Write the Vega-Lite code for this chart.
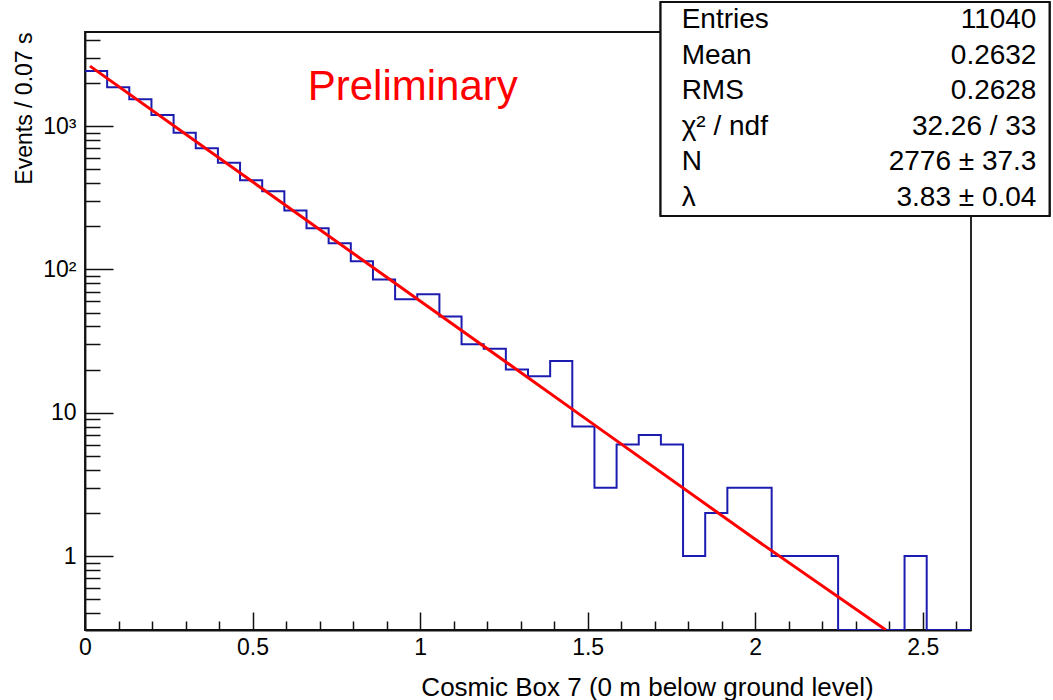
{
  "$schema": "https://vega.github.io/schema/vega-lite/v6.json",
  "autosize": {"type": "none"},
  "width": 886,
  "height": 598,
  "padding": {"left": 85, "top": 32, "right": 82, "bottom": 70},
  "background": "white",
  "config": {
    "font": "Liberation Sans",
    "view": {"stroke": "#111111", "strokeWidth": 1.8},
    "axis": {"grid": false, "domainColor": "#111111", "domainWidth": 1.8, "tickColor": "#111111", "tickWidth": 1.5, "labelColor": "#000000", "titleColor": "#000000", "labelFont": "Liberation Sans", "titleFont": "Liberation Sans", "titleFontWeight": "normal"}
  },
  "datasets": {
    "hist": [
      {"t": 0.0, "n": 2424}, {"t": 0.0661, "n": 1866}, {"t": 0.1322, "n": 1538}, {"t": 0.1983, "n": 1195},
      {"t": 0.2644, "n": 899}, {"t": 0.3305, "n": 700}, {"t": 0.3966, "n": 555}, {"t": 0.4627, "n": 419},
      {"t": 0.5288, "n": 351}, {"t": 0.5949, "n": 258}, {"t": 0.661, "n": 194}, {"t": 0.7271, "n": 152},
      {"t": 0.7932, "n": 114}, {"t": 0.8593, "n": 85}, {"t": 0.9254, "n": 62}, {"t": 0.9915, "n": 67},
      {"t": 1.0576, "n": 47}, {"t": 1.1237, "n": 30}, {"t": 1.1898, "n": 28}, {"t": 1.2559, "n": 20},
      {"t": 1.322, "n": 18}, {"t": 1.3881, "n": 23}, {"t": 1.4542, "n": 8}, {"t": 1.5203, "n": 3},
      {"t": 1.5864, "n": 6}, {"t": 1.6525, "n": 7}, {"t": 1.7186, "n": 6}, {"t": 1.7847, "n": 1},
      {"t": 1.8508, "n": 2}, {"t": 1.9169, "n": 3}, {"t": 1.983, "n": 3}, {"t": 2.0491, "n": 1},
      {"t": 2.1152, "n": 1}, {"t": 2.1813, "n": 1}, {"t": 2.2474, "n": 0}, {"t": 2.3135, "n": 0},
      {"t": 2.3796, "n": 0}, {"t": 2.4457, "n": 1}, {"t": 2.5118, "n": 0}, {"t": 2.5779, "n": 0},
      {"t": 2.644, "n": 0}
    ],
    "fit": [
      {"t": 0.015, "f": 2621}, {"t": 0.5, "f": 409.0}, {"t": 1.0, "f": 60.26},
      {"t": 1.5, "f": 8.879}, {"t": 2.0, "f": 1.308}, {"t": 2.39, "f": 0.2935}
    ],
    "stats": [
      {"row": 1, "label": "Entries", "value": "11040"},
      {"row": 2, "label": "Mean", "value": "0.2632"},
      {"row": 3, "label": "RMS", "value": "0.2628"},
      {"row": 4, "label": "χ² / ndf", "value": "32.26 / 33"},
      {"row": 5, "label": "N", "value": "2776 ± 37.3"},
      {"row": 6, "label": "λ", "value": "3.83 ± 0.04"}
    ],
    "note": [{"text": "Preliminary"}]
  },
  "layer": [
    {
      "layer": [
        {
          "data": {"name": "hist"},
          "mark": {"type": "line", "interpolate": "step-after", "color": "#1c1cb0", "strokeWidth": 2, "clip": true},
          "encoding": {
            "x": {
              "field": "t", "type": "quantitative",
              "scale": {"domain": [0, 2.644], "nice": false, "zero": false},
              "axis": {
                "values": [0, 0.1, 0.2, 0.3, 0.4, 0.5, 0.6, 0.7, 0.8, 0.9, 1, 1.1, 1.2, 1.3, 1.4, 1.5, 1.6, 1.7, 1.8, 1.9, 2, 2.1, 2.2, 2.3, 2.4, 2.5, 2.6],
                "tickCount": 200,
                "labelExpr": "abs(datum.value*2-round(datum.value*2))<0.001 ? format(datum.value,'~g') : ''",
                "tickSize": {"condition": {"test": "abs(datum.value*2-round(datum.value*2))<0.001", "value": -18}, "value": -9},
                "labelFontSize": 23,
                "labelPadding": 24,
                "labelFlush": false,
                "labelOverlap": false,
                "title": "Cosmic Box 7 (0 m below ground level)",
                "titleFontSize": 26,
                "titleX": 562,
                "titleY": 65,
                "titleAlign": "center",
                "titleBaseline": "alphabetic"
              }
            },
            "y": {
              "field": "n", "type": "quantitative",
              "scale": {"type": "log", "domain": [0.3046, 4537], "nice": false, "clamp": true},
              "axis": {
                "values": [0.4, 0.5, 0.6, 0.7, 0.8, 0.9, 1, 2, 3, 4, 5, 6, 7, 8, 9, 10, 20, 30, 40, 50, 60, 70, 80, 90, 100, 200, 300, 400, 500, 600, 700, 800, 900, 1000, 2000, 3000, 4000],
                "tickCount": 200,
                "labelExpr": "datum.value==1 ? '1' : datum.value==10 ? '10' : datum.value==100 ? '10²' : datum.value==1000 ? '10³' : ''",
                "tickSize": {"condition": {"test": "datum.value==1 || datum.value==10 || datum.value==100 || datum.value==1000", "value": -28}, "value": -15},
                "labelFontSize": 23,
                "labelPadding": 37,
                "labelOverlap": false,
                "labelFlush": false,
                "title": "Events / 0.07 s",
                "titleFontSize": 23,
                "titleAnchor": "end",
                "titlePadding": 6
              }
            }
          }
        },
        {
          "data": {"name": "fit"},
          "mark": {"type": "line", "color": "#ff0000", "strokeWidth": 3, "clip": true},
          "encoding": {
            "x": {"field": "t", "type": "quantitative"},
            "y": {"field": "f", "type": "quantitative"}
          }
        },
        {
          "data": {"name": "note"},
          "mark": {"type": "text", "color": "#ff0000", "fontSize": 42, "align": "center", "baseline": "alphabetic", "font": "Liberation Sans"},
          "encoding": {
            "x": {"datum": 0.978},
            "y": {"datum": 1521},
            "text": {"field": "text"}
          }
        }
      ]
    },
    {
      "data": {"name": "stats"},
      "layer": [
        {
          "mark": {"type": "rect", "fill": "white", "stroke": "#111111", "strokeWidth": 1.8, "clip": false},
          "encoding": {
            "x": {"datum": 1.718},
            "x2": {"datum": 2.878},
            "y": {"datum": 0.5, "type": "quantitative", "scale": {"domain": [1, 6], "range": [-12, 166], "nice": false, "zero": false}, "axis": null},
            "y2": {"datum": 6.5}
          }
        },
        {
          "mark": {"type": "text", "align": "left", "baseline": "middle", "fontSize": 28, "font": "Liberation Sans", "color": "#000000"},
          "encoding": {
            "x": {"datum": 1.7805},
            "y": {"field": "row", "type": "quantitative", "axis": null},
            "text": {"field": "label"}
          }
        },
        {
          "mark": {"type": "text", "align": "right", "baseline": "middle", "fontSize": 28, "font": "Liberation Sans", "color": "#000000"},
          "encoding": {
            "x": {"datum": 2.8393},
            "y": {"field": "row", "type": "quantitative", "axis": null},
            "text": {"field": "value"}
          }
        }
      ]
    }
  ],
  "resolve": {"scale": {"y": "independent"}, "axis": {"y": "independent"}}
}
